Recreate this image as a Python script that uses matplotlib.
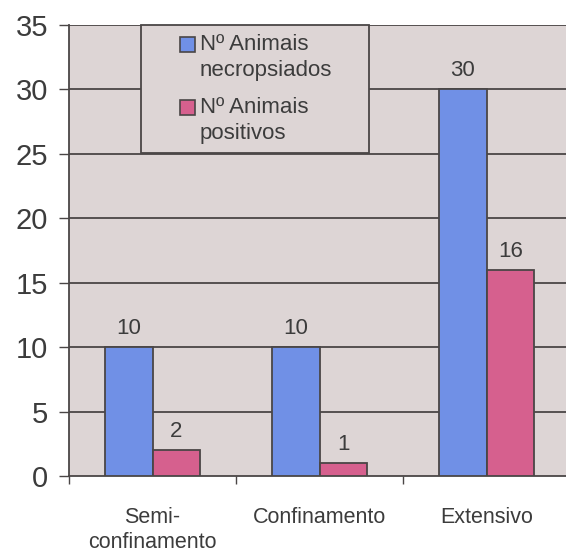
import matplotlib.pyplot as plt
import matplotlib.patches as patches
import numpy as np

plt.rcParams['font.family'] = ['Liberation Sans', 'DejaVu Sans']

categorias = ["Semi-\nconfinamento", "Confinamento", "Extensivo"]
necropsiados = [10, 10, 30]
positivos = [2, 1, 16]
series_nomes = ["Nº Animais\nnecropsiados", "Nº Animais\npositivos"]
yticks = [0, 5, 10, 15, 20, 25, 30, 35]

azul = "#7090e6"
rosa = "#d6608e"
fundo = "#ddd5d5"
tinta = "#3c3c3c"
linha = "#4a4646"

fig = plt.figure(figsize=(5.66, 5.52), dpi=100)
fig.patch.set_facecolor("white")
# axes run a bit past the right edge, like a cropped scan
ax = fig.add_axes([69 / 566, 1 - 476 / 552, 501 / 566, 451 / 552])
ax.set_facecolor(fundo)

x = np.arange(len(categorias))
w = 1 / 3.5
b1 = ax.bar(x - w / 2, necropsiados, w, color=azul, edgecolor=linha, linewidth=1.3, zorder=3)
b2 = ax.bar(x + w / 2, positivos, w, color=rosa, edgecolor=linha, linewidth=1.3, zorder=3)

for bars in (b1, b2):
    for r in bars:
        ax.annotate(f"{int(r.get_height())}", (r.get_x() + r.get_width() / 2, r.get_height()),
                    xytext=(0, 9.5), textcoords="offset points", ha="center", va="baseline",
                    fontsize=16, color=tinta)

ax.set_xlim(-0.5, len(categorias) - 0.5)
ax.set_ylim(0, 35)
ax.set_yticks(yticks)
ax.set_yticklabels([str(t) for t in yticks], fontsize=21, color=tinta)
for t in yticks[1:]:
    ax.axhline(t, color=linha, linewidth=1.3, zorder=1)

ax.set_xticks(x)
ax.set_xticklabels(categorias, fontsize=15.5, color=tinta, linespacing=1.3)
ax.tick_params(axis="x", length=0, pad=22)
ax.set_xticks(np.arange(len(categorias) + 1) - 0.5, minor=True)
ax.tick_params(axis="x", which="minor", length=6, width=1, color=linha, direction="out")
ax.tick_params(axis="y", length=7, width=1, color=linha, direction="out", pad=8)

for s in ("top", "right"):
    ax.spines[s].set_visible(False)
ax.spines["left"].set_color(linha)
ax.spines["left"].set_linewidth(1.3)
ax.spines["bottom"].set_color(linha)
ax.spines["bottom"].set_linewidth(1.3)

# legend box drawn by hand, handle next to the first line of each label
tr = fig.transFigure
W, H = 566, 552
caixa = patches.Rectangle((141 / W, 1 - 153 / H), 228 / W, 128 / H, transform=tr,
                          facecolor=fundo, edgecolor=linha, linewidth=1.3, zorder=5)
fig.patches.append(caixa)
for cor, nome, y0 in zip([azul, rosa], series_nomes, [37, 100]):
    fig.patches.append(patches.Rectangle((180 / W, 1 - (y0 + 15) / H), 15 / W, 15 / H,
                                         transform=tr, facecolor=cor, edgecolor=linha,
                                         linewidth=1.2, zorder=6))
    fig.text(200 / W, 1 - (y0 - 3) / H, nome, fontsize=16, color=tinta, va="top",
             ha="left", linespacing=1.3, zorder=6)

fig.savefig("out.png", dpi=100)
